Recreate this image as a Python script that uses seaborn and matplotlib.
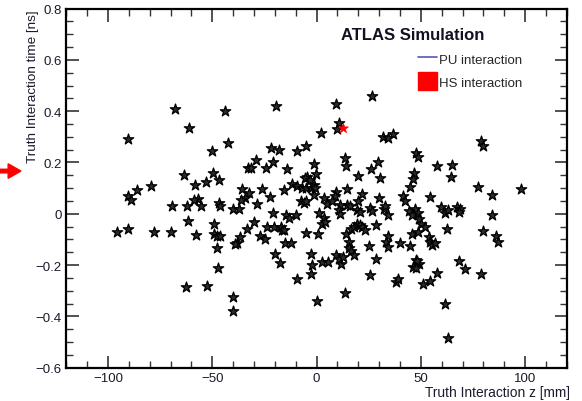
import numpy as np
import pandas as pd
import matplotlib
matplotlib.use("Agg")
import matplotlib.pyplot as plt
import seaborn as sns
from matplotlib.ticker import MultipleLocator
from matplotlib.lines import Line2D
from matplotlib.patches import Rectangle, FancyArrow

# --- PU vertices (z [mm], t [ns]) ---
pu_z = [26.7, -67.8, -19.6, 9.3, -43.8, -61.4, -90.2, 10.5, 9.8, 2.3, 32.0, 34.0, 36.8,
        -42.3, 78.6, 80.0, -50.2, -21.7, -18.0, -9.4, -5.3, 13.7, 14.0, 47.5, 48.6, 26.2,
        29.5, 57.5, 64.8, 64.6, -1.4, -0.4, -29.0, -21.0, -24.4, -33.1, -31.5, -14.4,
        -49.8, -46.6, -52.8, -63.5, -58.2, 19.8, 30.4, 46.8, 46.0, 44.8, -4.8, -79.2,
        -86.3, -90.2, -89.1, 77.4, 97.9, 84.2, 54.4, 14.6, 9.3, 8.7, 21.7, 19.8, 30.1,
        41.5, 42.2, -11.6, -9.2, -7.0, -5.0, -2.7, -1.4, -0.8, -5.5, -3.2, -15.7, -26.0,
        -35.8, -32.2, -34.3, -36.1, -22.4, -28.6, -7.7, -6.2, -5.0, 3.4, 4.8, 7.3, -56.8,
        -58.9, -55.5, -62.3, -69.2, -47.0, -46.3, -40.0, -37.0, 14.4, 11.4, 10.5, 11.2,
        16.2, 19.6, 20.6, 25.4, 32.2, 34.2, 47.2, 44.1, 48.4, 45.9, 59.6, 61.8, 63.2,
        67.1, 68.9, 68.2, 84.2, -21.0, -14.6, -13.2, -10.1, 1.2, 3.4, 2.7, 4.1, -61.9,
        -95.6, -90.6, -78.1, -69.6, -57.7, -49.1, -49.1, -48.0, -46.4, -48.0, -47.3,
        -62.8, -52.7, -40.0, -40.0, -38.4, -39.1, -36.5, -33.5, -29.9, -27.2, -24.9,
        -24.0, -20.5, -17.1, -16.5, -15.5, -15.3, -12.1, -20.1, -17.4, -9.4, -5.3, 0.7,
        -2.7, -2.3, -2.7, 0.4, 2.7, 5.7, 9.3, 11.6, 10.7, 12.8, 13.7, 14.2, 15.5, 15.5,
        16.7, 17.9, 16.7, 18.1, 19.6, 20.8, 21.7, 23.0, 28.5, 24.9, 28.5, 25.4, 34.2,
        33.5, 34.2, 40.0, 44.7, 38.0, 39.1, 45.7, 48.6, 49.0, 50.2, 52.0, 53.7, 54.6,
        55.5, 56.9, 62.6, 47.5, 49.3, 46.1, 48.2, 47.5, 57.5, 51.0, 54.3, 61.4, 63.0,
        68.5, 71.0, 79.0, 79.9, 85.8, 87.2, 26.7, 32.7, -1.2]
pu_t = [0.46, 0.41, 0.42, 0.43, 0.40, 0.336, 0.29, 0.355, 0.33, 0.314, 0.30, 0.294, 0.31,
        0.275, 0.284, 0.266, 0.244, 0.258, 0.25, 0.245, 0.266, 0.216, 0.186, 0.236, 0.22,
        0.175, 0.203, 0.186, 0.19, 0.145, 0.193, 0.154, 0.21, 0.20, 0.18, 0.177, 0.177,
        0.175, 0.16, 0.13, 0.125, 0.152, 0.112, 0.147, 0.14, 0.16, 0.135, 0.105, 0.144,
        0.107, 0.091, 0.07, 0.053, 0.104, 0.095, 0.073, 0.064, 0.096, 0.086, 0.07, 0.077,
        0.05, 0.06, 0.069, 0.05, 0.115, 0.11, 0.10, 0.10, 0.102, 0.112, 0.10, 0.14, 0.13,
        0.092, 0.095, 0.096, 0.08, 0.06, 0.053, 0.064, 0.04, 0.05, 0.043, 0.05, 0.06, 0.04,
        0.05, 0.056, 0.052, 0.031, 0.031, 0.031, 0.044, 0.03, 0.02, 0.02, 0.033, 0.035,
        0.014, 0.001, 0.03, 0.014, 0.008, 0.022, 0.017, -0.005, 0.018, 0.01, 0.004,
        -0.005, 0.025, 0.004, 0.014, 0.025, 0.02, 0.008, -0.004, 0.004, -0.005, -0.018,
        -0.005, 0.004, -0.018, -0.038, -0.031, -0.03, -0.07, -0.06, -0.07, -0.07, -0.082,
        -0.038, -0.077, -0.085, -0.085, -0.135, -0.21, -0.284, -0.28, -0.324, -0.38,
        -0.112, -0.118, -0.09, -0.06, -0.031, -0.087, -0.10, -0.05, -0.05, -0.05, -0.063,
        -0.063, -0.113, -0.113, -0.155, -0.19, -0.253, -0.074, -0.08, -0.155, -0.198,
        -0.236, -0.34, -0.188, -0.188, -0.162, -0.194, -0.175, -0.168, -0.309, -0.077,
        -0.109, -0.132, -0.145, -0.162, -0.06, -0.05, -0.038, -0.043, -0.05, -0.064,
        -0.044, -0.126, -0.177, -0.237, -0.087, -0.109, -0.129, -0.112, -0.125, -0.266,
        -0.253, -0.077, -0.072, -0.022, -0.038, -0.053, -0.092, -0.109, -0.122, -0.112,
        -0.06, -0.181, -0.194, -0.207, -0.184, -0.21, -0.23, -0.272, -0.263, -0.35,
        -0.483, -0.184, -0.214, -0.236, -0.066, -0.087, -0.109, 0.01, 0.03, 0.072]

# --- hard-scatter vertex ---
hs_z = [12.6]
hs_t = [0.336]

pu = pd.DataFrame({"z": pu_z, "t": pu_t})
hs = pd.DataFrame({"z": hs_z, "t": hs_t})

sns.set_theme(style="ticks")
plt.rcParams['font.family'] = ['Liberation Sans', 'DejaVu Sans']

fig = plt.figure(figsize=(5.82, 4.02), dpi=100)
ax = fig.add_axes([0.114, 0.083, 0.860, 0.893])

sns.scatterplot(data=pu, x="z", y="t", marker="*", s=62, color="#2a2a2a",
                edgecolor="black", linewidth=0.9, ax=ax, legend=False, zorder=3)
sns.scatterplot(data=hs, x="z", y="t", marker="*", s=55, color="red",
                edgecolor="red", linewidth=0.5, ax=ax, legend=False, zorder=4)

ax.set_xlim(-120, 120)
ax.set_ylim(-0.6, 0.8)
ax.xaxis.set_minor_locator(MultipleLocator(10))
ax.yaxis.set_minor_locator(MultipleLocator(0.05))
ax.tick_params(which="both", direction="in", top=True, right=True, colors="#333333",
               labelcolor="#1a1a2a", labelsize=9.5)
ax.tick_params(which="major", length=9, width=1.2)
ax.tick_params(which="minor", length=5, width=1.0)
ax.set_yticks(np.arange(-0.6, 0.81, 0.2))
ax.set_yticklabels(["\u22120.6", "\u22120.4", "\u22120.2", "0", "0.2", "0.4", "0.6", "0.8"])
ax.set_xticks([-100, -50, 0, 50, 100])
ax.set_xticklabels(["\u2212100", "\u221250", "0", "50", "100"])
for sp in ax.spines.values():
    sp.set_linewidth(1.6)
    sp.set_color("black")
ax.set_xlabel("")
ax.set_ylabel("")

fig.text(570 / 582, 1 - 393 / 402, "Truth Interaction z [mm]", ha="right", va="center",
         fontsize=9.9, color="#1a1a2a")
fig.text(33 / 582, 1 - 10 / 402, "Truth Interaction time [ns]", ha="center", va="top",
         rotation=90, fontsize=9.7, color="#1a1a2a")

ax.text(0.835, 0.928, "ATLAS Simulation", transform=ax.transAxes, ha="right", va="center",
        fontsize=12, fontweight="bold", color="#111122")

# legend drawn as ROOT-style entries
leg_handles = [Line2D([0], [0], color="#5555bb", lw=1.2),
               Rectangle((0, 0), 1, 1, facecolor="red", edgecolor="red")]
ax.legend(leg_handles, ["PU interaction", "HS interaction"], loc="upper left",
          bbox_to_anchor=(0.703, 0.885), frameon=False, fontsize=9.5, handlelength=1.4,
          handleheight=1.7, handletextpad=0.15, labelspacing=0.35, borderaxespad=0,
          borderpad=0)

# red marker arrow on the left margin
fig.patches.append(FancyArrow(0.0, 0.572, 0.036, 0, width=0.009,
                   head_width=0.036, head_length=0.022, color="red",
                   transform=fig.transFigure, length_includes_head=True))

fig.savefig("out.png", dpi=100)
